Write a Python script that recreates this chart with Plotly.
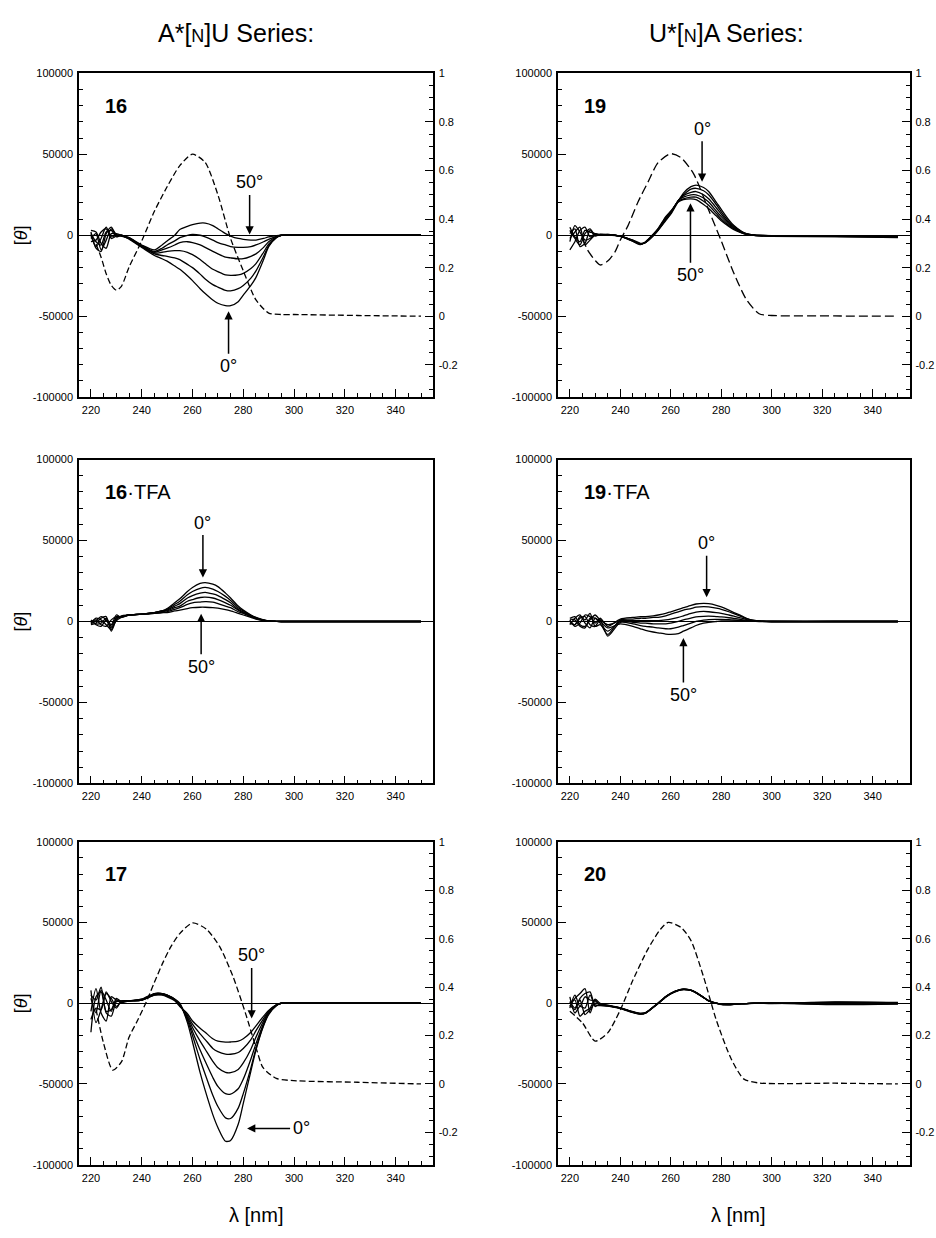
import plotly.graph_objects as go

FONT = "Liberation Sans, Arial, Helvetica, sans-serif"

# ---------------- data ----------------
WL = [220, 222, 224, 226, 228, 230, 232, 235, 240, 245, 248, 250, 253, 255, 258, 260,
      263, 265, 268, 270, 273, 275, 278, 280, 283, 285, 288, 290, 293, 295, 300, 325, 350]
TEMPS = ["0°", "10°", "20°", "30°", "40°", "50°"]

CD_16 = [
    [1000, -4000, -6000, 2000, 3000, -1000, 0, -2500, -7500, -12500, -14500, -16000, -19000, -21000, -25000, -28000, -33000, -36000, -40000, -42000, -43500, -43500, -41000, -37000, -31000, -26000, -15000, -7000, -1500, 0, 0, 0, 0],
    [-2000, 1000, -9000, -3000, 4000, 500, -500, -2000, -7000, -11500, -12500, -13000, -14000, -15000, -18000, -20000, -24000, -27000, -30500, -32000, -34000, -34300, -33000, -31000, -26500, -22000, -13000, -6500, -1500, 0, 0, 0, 0],
    [0, -7000, -2000, 5000, -1000, 0, 0, -2000, -7000, -11000, -10500, -10000, -9500, -9500, -10500, -12000, -15000, -17500, -21000, -22500, -24500, -24800, -24500, -23500, -20500, -17500, -10500, -5500, -1200, 0, 0, 0, 0],
    [3000, 2000, -5000, -8000, 1000, 1000, 0, -2000, -6500, -10500, -9000, -8000, -6000, -4500, -4000, -4500, -6000, -7500, -10000, -11500, -13500, -14000, -14600, -14500, -13000, -11500, -7500, -4000, -1000, 0, 0, 0, 0],
    [-4000, -3000, 2000, 4000, -2000, -500, -500, -1500, -6500, -10000, -8000, -6000, -3500, -1500, 0, 500, 0, -1000, -3000, -4500, -6000, -7000, -7500, -7500, -7000, -6000, -4000, -2500, -700, 0, 0, 0, 0],
    [2000, -8000, -10000, 1000, 5000, 0, 0, -1500, -6000, -9000, -6000, -3500, 0, 3500, 5500, 6500, 7500, 7500, 6000, 4000, 1000, -500, -2000, -2500, -3000, -3000, -2000, -1000, -300, 0, 0, 0, 0],
]
CD_19 = [
    [3000, -2000, -6000, 1000, 4000, 0, 500, 500, -500, -3000, -5000, -4500, -500, 3000, 9000, 13000, 21000, 26000, 30000, 31000, 29500, 27000, 20500, 16000, 9500, 6000, 2500, 1000, 200, 0, -200, -500, -800],
    [-9000, -4000, 3000, 5000, -1000, 1000, 0, 500, -500, -3200, -5200, -4500, -300, 3200, 9500, 13500, 21500, 25000, 28500, 29000, 27500, 25000, 19000, 14500, 8500, 5500, 2200, 900, 100, -100, -200, -400, -600],
    [1000, 4000, -7000, -5000, 3000, -500, 500, 400, -600, -3400, -5400, -4400, 0, 3500, 10000, 14000, 21500, 24500, 26500, 27000, 25000, 22500, 17000, 13000, 7500, 5000, 2000, 800, 0, -100, -300, -500, -700],
    [-4000, 6000, 2000, -3000, -2000, 500, 0, 400, -600, -3500, -5500, -4300, 200, 3800, 10500, 14000, 21500, 23500, 25000, 25000, 23000, 20500, 15000, 11500, 6800, 4500, 1800, 700, 0, -200, -400, -700, -1000],
    [5000, -1000, -4000, 3000, 2000, 1000, 500, 300, -700, -3600, -5600, -4200, 400, 4000, 11000, 14500, 21000, 22500, 23500, 23500, 21000, 18500, 13500, 10000, 6000, 4000, 1600, 600, -100, -300, -500, -800, -1200],
    [-2000, 2000, 5000, -6000, -3000, 0, 0, 300, -700, -3800, -5800, -4000, 600, 4200, 11500, 15000, 20500, 22000, 22500, 22000, 19000, 16500, 12000, 9000, 5500, 3500, 1500, 500, -100, -300, -600, -900, -1400],
]
CD_16TFA = [
    [-1000, 2000, 1000, -2000, -5000, 2000, 3000, 4000, 4500, 5500, 6500, 8000, 11500, 14000, 18500, 21000, 23500, 24000, 23000, 21500, 17500, 14500, 9500, 7000, 4000, 2500, 1000, 400, 100, 0, 0, 0, 0],
    [1000, -2000, -3000, 1000, -2000, 4000, 2500, 4000, 4500, 5500, 6500, 7500, 10500, 12500, 16500, 18500, 20500, 21000, 20000, 18500, 15500, 13000, 8500, 6500, 3800, 2300, 900, 350, 100, 0, 0, 0, 0],
    [-2000, -1000, 2000, 3000, -6000, 1000, 3500, 4000, 4500, 5500, 6500, 7000, 9500, 11000, 14500, 16000, 17500, 18000, 17000, 16000, 13500, 11500, 7500, 6000, 3500, 2100, 800, 300, 100, 0, 0, 0, 0],
    [0, 1000, -2000, -3000, 1000, 3000, 3000, 4000, 4500, 5500, 6000, 6500, 8500, 9500, 12500, 13500, 14800, 15000, 14500, 13500, 11500, 10000, 7000, 5500, 3200, 2000, 700, 300, 100, 0, 0, 0, 0],
    [-1500, 500, 3000, 1000, -4000, 500, 2500, 4000, 4500, 5000, 5500, 6000, 7500, 8500, 10500, 11500, 12000, 12300, 12000, 11000, 9500, 8500, 6000, 5000, 3000, 1800, 700, 250, 50, 0, 0, 0, 0],
    [500, -1500, -1000, 2000, -3000, 2500, 3000, 4000, 4500, 5000, 5500, 5500, 6500, 7000, 8000, 8500, 8800, 8800, 8600, 8200, 7300, 6500, 5000, 4000, 2500, 1500, 600, 200, 50, 0, 0, 0, 0],
]
CD_19TFA = [
    [1000, -3000, -1000, 4000, 3000, -1000, 2000, -3000, 1500, 2500, 3000, 3000, 3500, 4000, 5000, 6000, 7500, 8500, 10000, 10800, 11200, 11000, 10000, 9000, 7000, 5500, 3500, 2000, 700, 300, 0, 0, 0],
    [-2000, 2000, 4000, -1000, -4000, 2000, -1000, -8000, 1000, 1500, 2000, 2000, 2500, 2500, 3500, 4500, 6000, 7000, 8000, 8800, 9200, 9000, 8200, 7500, 6000, 4800, 3000, 1800, 600, 300, 0, 0, 0],
    [2000, 3000, -2000, -3000, 1000, 4000, 1000, -2000, 500, 500, 500, 500, 500, 500, 1000, 1500, 2500, 3500, 5000, 5800, 6200, 6000, 5500, 5000, 4000, 3300, 2000, 1200, 400, 200, 0, 0, 0],
    [-1000, -2000, 3000, 1000, 5000, -3000, -2000, -6000, 0, -500, -1000, -1000, -1500, -1500, -1500, -1000, 0, 1000, 2000, 2800, 3200, 3300, 3000, 2800, 2300, 1900, 1200, 700, 300, 100, 0, 0, 0],
    [0, -2000, 2000, 3000, -2000, -3000, 1000, -9000, -500, -1500, -2500, -3000, -3500, -4000, -4500, -4500, -3500, -2500, -1000, 0, 800, 1200, 1300, 1300, 1100, 900, 600, 400, 200, 100, 0, 0, 0],
    [1500, 1000, -3000, -4000, 2000, 2000, 0, -4000, -1500, -3000, -4500, -5500, -6500, -7000, -7800, -8000, -7500, -6000, -4000, -2500, -1000, -500, 0, 300, 400, 400, 300, 200, 100, 0, 0, 0, 0],
]
CD_17 = [
    [8000, -12000, -4000, 6000, 3000, -2000, 1000, 1500, 2500, 6000, 6000, 5000, 2500, 0, -12000, -24000, -43000, -54000, -69000, -77000, -85500, -85000, -75000, -62000, -42000, -29000, -14000, -7000, -1500, 0, 0, 0, 0],
    [-18000, 4000, 7000, -5000, -4000, 2000, 500, 1500, 2500, 6000, 6000, 5000, 2500, -500, -10500, -20000, -35000, -44000, -57000, -64000, -71000, -71400, -65000, -56000, -40000, -28000, -13500, -6500, -1500, 0, 0, 0, 0],
    [-5000, 9000, -6000, -11000, 4000, 2000, 1500, 1500, 2000, 5500, 6000, 5000, 2500, -1000, -9500, -17500, -29000, -36000, -46000, -51500, -56000, -56300, -53000, -47000, -34500, -25000, -12500, -6000, -1300, 0, 0, 0, 0],
    [3000, -6000, 8000, 2000, -5000, 3000, 1000, 1500, 2000, 5500, 5500, 4500, 2000, -1500, -8500, -15000, -23500, -28500, -36000, -40000, -42800, -43000, -41000, -37000, -28500, -21000, -11000, -5500, -1200, 0, 0, 0, 0],
    [-10000, -3000, -4000, 7000, 1000, -3000, 1500, 1500, 2000, 5000, 5500, 4500, 2000, -1500, -7500, -13000, -19000, -22500, -28000, -30000, -31500, -31600, -30500, -28000, -22500, -17000, -9500, -5000, -1000, 0, 0, 0, 0],
    [5000, 2000, 10000, -6000, -8000, 1000, 1000, 1500, 2000, 5000, 5000, 4000, 1500, -2000, -6500, -11000, -15500, -18000, -22000, -23500, -24100, -24000, -23500, -22000, -18000, -14000, -8000, -4500, -1000, 0, 0, 0, 0],
]
CD_20 = [
    [-2000, 3000, 6000, 9000, -6000, 2000, -1000, -1500, -3000, -5500, -6500, -6000, -2500, 0, 4000, 6000, 8000, 8600, 8000, 6500, 3500, 1500, 0, -700, -800, -600, -300, -200, 0, 0, 0, 300, 0],
    [4000, -6000, -2000, -3000, 5000, -1000, -1500, -1800, -3300, -5800, -6800, -6200, -2700, -200, 3800, 5800, 7800, 8500, 8000, 6600, 3700, 1600, 100, -600, -800, -600, -300, -200, 0, 100, -200, 600, 300],
    [1000, -3000, 2000, -7000, -4000, 0, -500, -1200, -2800, -5200, -6200, -5800, -2300, 200, 4200, 6200, 8200, 8800, 8200, 6700, 3600, 1500, 0, -700, -900, -700, -400, -200, -100, 0, 200, -500, -300],
    [-3000, 5000, -2000, 4000, 2000, 1500, -1000, -1600, -3100, -5600, -6600, -6100, -2600, -100, 3900, 5900, 7900, 8500, 7900, 6400, 3400, 1400, -100, -800, -900, -700, -400, -300, -100, -100, 100, -800, -500],
    [500, 2000, -8000, -5000, -3000, 2500, 0, -1400, -2900, -5400, -6400, -5900, -2400, 100, 4100, 6100, 8100, 8700, 8100, 6600, 3600, 1600, 0, -600, -700, -500, -300, -200, 0, 0, -100, 800, 500],
    [-1000, -4000, 3000, 6000, 7000, -2000, -500, -1500, -3000, -5500, -6500, -6000, -2500, 0, 4000, 6000, 8000, 8600, 8000, 6500, 3500, 1500, 0, -700, -800, -600, -300, -200, 0, 0, 0, -300, -200],
]

# UV absorbance (dashed, right axis)
UV_WL_16 = [222, 224, 226, 228, 230, 232, 235, 240, 245, 250, 255, 260, 265, 270, 275, 280, 285, 290, 295, 300, 325, 350]
UV_A_16 = [0.297, 0.243, 0.175, 0.127, 0.107, 0.123, 0.202, 0.310, 0.432, 0.533, 0.620, 0.667, 0.633, 0.500, 0.320, 0.187, 0.067, 0.013, 0.007, 0.007, 0.003, 0.0]
UV_WL_19 = [225, 227, 230, 232, 235, 238, 240, 243, 247, 251, 255, 260, 264, 269, 275, 280, 285, 290, 295, 300, 325, 350]
UV_A_19 = [0.321, 0.273, 0.230, 0.211, 0.227, 0.267, 0.314, 0.372, 0.470, 0.553, 0.633, 0.669, 0.653, 0.587, 0.437, 0.310, 0.177, 0.068, 0.010, 0.003, 0.001, 0.0]
UV_WL_17 = [222, 225, 228.6, 232, 235, 238, 241.7, 245, 248.3, 251.5, 254.9, 260, 265.4, 270.7, 275.9, 281.2, 285.1, 287.8, 293, 301, 325, 350]
UV_A_17 = [0.309, 0.167, 0.057, 0.091, 0.193, 0.255, 0.336, 0.420, 0.500, 0.567, 0.620, 0.665, 0.640, 0.567, 0.445, 0.281, 0.147, 0.067, 0.023, 0.013, 0.007, 0.0]
UV_WL_20 = [220, 225, 230, 235, 240, 245, 251, 256, 259, 264, 268, 273, 278, 284, 289, 295, 325, 350]
UV_A_20 = [0.300, 0.252, 0.177, 0.211, 0.306, 0.429, 0.558, 0.640, 0.667, 0.647, 0.592, 0.442, 0.265, 0.102, 0.020, 0.004, 0.003, 0.0]

Y_TICKS = [-100000, -50000, 0, 50000, 100000]
Y_TICKTEXT = ["-100000", "-50000", "0", "50000", "100000"]
A_TICKS = [-0.2, 0, 0.2, 0.4, 0.6, 0.8, 1]
A_TICKTEXT = ["-0.2", "0", "0.2", "0.4", "0.6", "0.8", "1"]
X_TICKS = [220, 240, 260, 280, 300, 320, 340]

# ---------------- layout geometry ----------------
W, H = 936, 1238
XDOM = {0: [79 / W, 432.7 / W], 1: [558 / W, 909.5 / W]}
YDOM = {0: [1 - 395 / H, 1 - 68 / H], 1: [1 - 785 / H, 1 - 458 / H], 2: [1 - 1170 / H, 1 - 844 / H]}

panels = [
    dict(col=0, row=0, cd=CD_16, uvx=UV_WL_16, uva=UV_A_16, dash="6px,3px", label="<b>16</b>",
         arrows=[("50°", 282.5, 500, 0, -52), ("0°", 274.2, -47000, 0, 55)]),
    dict(col=1, row=0, cd=CD_19, uvx=UV_WL_19, uva=UV_A_19, dash="9px,4px", label="<b>19</b>",
         arrows=[("0°", 272.4, 33000, 0, -53), ("50°", 267.8, 19700, 0, 72)]),
    dict(col=0, row=1, cd=CD_16TFA, uvx=None, uva=None, dash=None, label="<b>16</b>·TFA",
         arrows=[("0°", 264.1, 27100, 0, -55), ("50°", 263.4, 4700, 0, 53)]),
    dict(col=1, row=1, cd=CD_19TFA, uvx=None, uva=None, dash=None, label="<b>19</b>·TFA",
         arrows=[("0°", 274.2, 14900, 0, -54), ("50°", 265.0, -10200, 0, 57)]),
    dict(col=0, row=2, cd=CD_17, uvx=UV_WL_17, uva=UV_A_17, dash="6px,3px", label="<b>17</b>",
         arrows=[("50°", 283.3, -9400, 0, -63), ("0°", 281.5, -77600, 54, 0)]),
    dict(col=1, row=2, cd=CD_20, uvx=UV_WL_20, uva=UV_A_20, dash="6px,3px", label="<b>20</b>",
         arrows=[]),
]


def ax_suffix(n):
    return "" if n == 1 else str(n)


TICKFONT = dict(size=11, family=FONT, color="black")

fig = go.Figure()
layout = dict(
    width=W, height=H, margin=dict(l=0, r=0, t=0, b=0, pad=0),
    paper_bgcolor="white", plot_bgcolor="white", showlegend=False,
    font=dict(family=FONT, color="black", size=11),
)
annotations = []
right_id = 7

for i, p in enumerate(panels, start=1):
    s = ax_suffix(i)
    xa, ya = f"x{s}", f"y{s}"
    for t, vals in zip(TEMPS, p["cd"]):
        fig.add_trace(go.Scatter(
            x=WL, y=vals, mode="lines", name=t, xaxis=xa, yaxis=ya,
            line=dict(color="black", width=1.3, shape="spline", smoothing=0.7),
            hoverinfo="skip"))
    layout[f"xaxis{s}"] = dict(
        domain=XDOM[p["col"]], anchor=ya, range=[215.3, 354.6],
        tickmode="array", tickvals=X_TICKS, ticks="inside", ticklen=8, tickwidth=1.3,
        tickcolor="black",
        minor=dict(ticks="inside", ticklen=4, tickwidth=1.1, tick0=220, dtick=5, tickcolor="black"),
        showline=True, linecolor="black", linewidth=1.5, mirror=True,
        showgrid=False, zeroline=False, tickfont=TICKFONT, ticklabelstandoff=2)
    layout[f"yaxis{s}"] = dict(
        domain=YDOM[p["row"]], anchor=xa, range=[-100000, 100000],
        tickmode="array", tickvals=Y_TICKS, ticktext=Y_TICKTEXT,
        ticks="inside", ticklen=8, tickwidth=1.3, tickcolor="black",
        minor=dict(ticks="inside", ticklen=4, tickwidth=1.1, tick0=0, dtick=10000, tickcolor="black"),
        showline=True, linecolor="black", linewidth=1.5, mirror=True,
        showgrid=False, zeroline=True, zerolinecolor="black", zerolinewidth=1.2,
        tickfont=TICKFONT, ticklabelstandoff=2)
    if p["uvx"] is not None:
        ra = f"y{right_id}"
        fig.add_trace(go.Scatter(
            x=p["uvx"], y=p["uva"], mode="lines", name="UV", xaxis=xa, yaxis=ra,
            line=dict(color="black", width=1.3, dash=p["dash"], shape="spline", smoothing=0.7),
            hoverinfo="skip"))
        layout[f"yaxis{right_id}"] = dict(
            overlaying=ya, side="right", anchor=xa, range=[-1 / 3, 1],
            tickmode="array", tickvals=A_TICKS, ticktext=A_TICKTEXT,
            ticks="inside", ticklen=8, tickwidth=1.3, tickcolor="black",
            minor=dict(ticks="inside", ticklen=4, tickwidth=1.1, tick0=0, dtick=0.05, tickcolor="black"),
            showline=True, linecolor="black", linewidth=1.5,
            showgrid=False, zeroline=False, tickfont=TICKFONT, ticklabelstandoff=2)
        right_id += 1
    # panel label
    annotations.append(dict(
        xref=f"{xa} domain", yref=f"{ya} domain", x=0.068, y=0.9,
        xanchor="left", yanchor="middle", showarrow=False,
        text=p["label"], font=dict(size=20, family=FONT, color="black")))
    for txt, ax_x, ax_y, dx, dy in p["arrows"]:
        annotations.append(dict(
            xref=xa, yref=ya, x=ax_x, y=ax_y, ax=dx, ay=dy, text=txt,
            showarrow=True, arrowhead=2, arrowsize=1.1, arrowwidth=1.5,
            arrowcolor="black", standoff=0, startstandoff=1,
            font=dict(size=18, family=FONT, color="black")))

# column titles
for xc, title in ((236, "A*[<span style='font-size:18px'>N</span>]U Series:"),
                  (726, "U*[<span style='font-size:18px'>N</span>]A Series:")):
    annotations.append(dict(xref="paper", yref="paper", x=xc / W, y=1 - 27 / H,
                            xanchor="center", yanchor="middle", showarrow=False,
                            text=title, font=dict(size=25, family=FONT, color="black")))
# x titles
for xc in (256, 738):
    annotations.append(dict(xref="paper", yref="paper", x=xc / W, y=1 - 1221 / H,
                            xanchor="center", yanchor="middle", showarrow=False,
                            text="λ [nm]", font=dict(size=20, family=FONT, color="black")))
# y titles
for r in (0, 1, 2):
    annotations.append(dict(xref="paper", yref="paper", x=21 / W, y=sum(YDOM[r]) / 2,
                            xanchor="center", yanchor="middle",
                            showarrow=False, textangle=-90,
                            text="[<i>θ</i>]", font=dict(size=18, family=FONT, color="black")))

layout["annotations"] = annotations
fig.update_layout(**layout)
fig.write_html("out.html", config={"displayModeBar": False},
               post_script="document.body.style.margin='0px';document.body.style.padding='0px';")
